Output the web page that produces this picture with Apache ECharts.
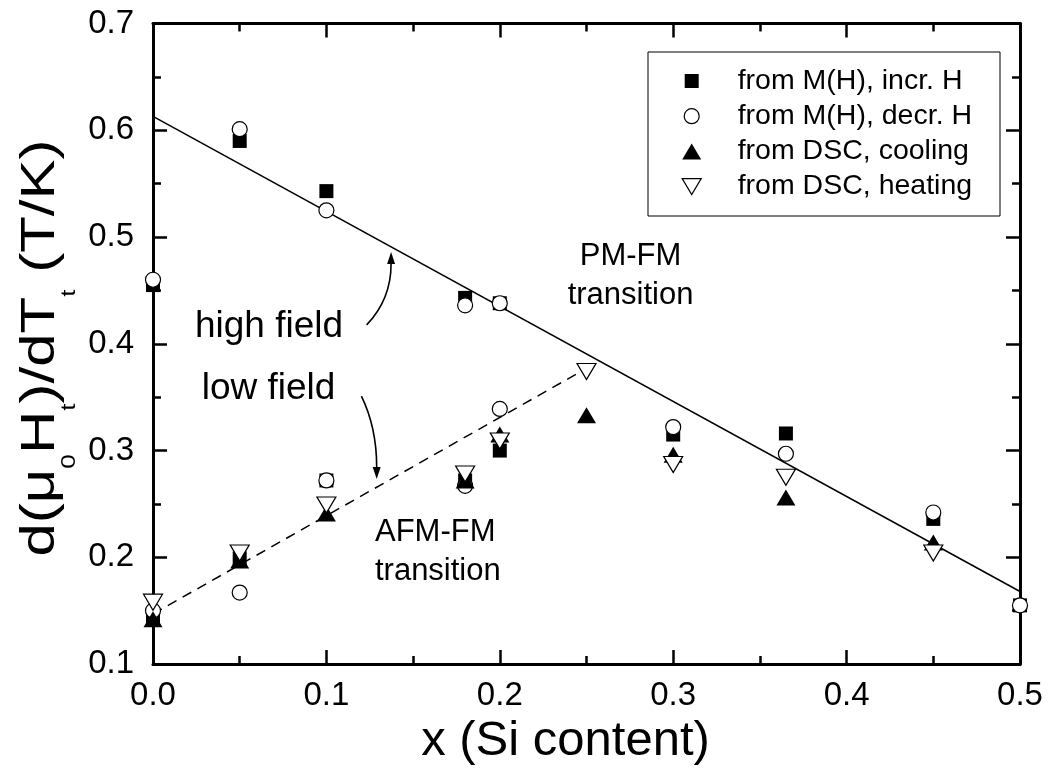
<!DOCTYPE html>
<html><head><meta charset="utf-8">
<script src="https://cdn.jsdelivr.net/npm/echarts@6/dist/echarts.min.js"></script>
<style>html,body{margin:0;padding:0;background:#fff}#c{width:1051px;height:771px}</style>
</head><body><div id="c"></div>
<script>
const FONT = 'Liberation Sans, Arial, Helvetica, sans-serif';

// ---- data (x = Si content, y = d(mu0 Ht)/dTt in T/K) ----
const seriesNames = ['from M(H), incr. H', 'from M(H), decr. H', 'from DSC, cooling', 'from DSC, heating'];
const incrH = [[0,0.455],[0.05,0.590],[0.1,0.543],[0.18,0.443],[0.2,0.438],
  [0,0.145],[0.05,0.199],[0.1,0.272],[0.18,0.272],[0.2,0.300],[0.3,0.315],[0.365,0.316],[0.45,0.236],[0.5,0.155]];
const decrH = [[0,0.460],[0.05,0.601],[0.1,0.525],[0.18,0.436],[0.2,0.438],
  [0,0.150],[0.05,0.167],[0.1,0.272],[0.18,0.267],[0.2,0.339],[0.3,0.322],[0.365,0.297],[0.45,0.242],[0.5,0.155]];
const dscCooling = [[0,0.142],[0.05,0.197],[0.1,0.241],[0.18,0.272],[0.2,0.315],[0.25,0.333],[0.3,0.296],[0.365,0.256],[0.45,0.214]];
const dscHeating = [[0,0.158],[0.05,0.204],[0.1,0.249],[0.18,0.278],[0.2,0.309],[0.25,0.374],[0.3,0.287],[0.365,0.275],[0.45,0.204]];
const highFieldFit = [[0,0.613],[0.5,0.168]];
const lowFieldFit = [[0,0.147],[0.25,0.377]];

// annotation anchors in data coordinates
const textNotes = [
  {text:'high field', at:[0.0242,0.4155], align:'left', size:37},
  {text:'low field', at:[0.0281,0.3581], align:'left', size:37},
  {text:'PM-FM\ntransition', at:[0.2754,0.4635], align:'center', size:31},
  {text:'AFM-FM\ntransition', at:[0.128,0.2051], align:'left', size:31}
];
const arrowNotes = [
  {from:[0.1232,0.4177], ctrl:[0.1373,0.4416], to:[0.1373,0.486]},
  {from:[0.1202,0.351], ctrl:[0.129,0.3215], to:[0.129,0.2734]}
];

const chart = echarts.init(document.getElementById('c'), null, {renderer:'canvas'});
const sq = 'path://M0,0 L10,0 L10,10 L0,10 Z';
const tri = 'path://M5,0 L10,10 L0,10 Z';
const triDown = 'path://M0,0 L10,0 L5,10 Z';

const axisCommon = {
  axisLine:{show:true, onZero:false, lineStyle:{color:'#000', width:3}},
  axisTick:{show:true, inside:true, length:14, lineStyle:{color:'#000', width:2.5}},
  minorTick:{show:true, splitNumber:2, length:8, lineStyle:{color:'#000', width:2.5}},
  splitLine:{show:false}
};

const option = {
  backgroundColor:'#fff',
  animation:false,
  grid:{left:153, right:31, top:23.5, bottom:103, containLabel:false},
  xAxis:[
    Object.assign({type:'value', min:0, max:0.5, interval:0.1, position:'bottom',
      axisLabel:{fontSize:33, fontFamily:FONT, color:'#000', margin:15, formatter:v=>v.toFixed(1)},
      name:'x (Si content)', nameLocation:'middle', nameGap:50,
      nameTextStyle:{fontSize:49, fontFamily:FONT, color:'#000', padding:[0,42,0,0]}}, axisCommon),
    Object.assign({type:'value', min:0, max:0.5, interval:0.1, position:'top',
      axisLabel:{show:false}}, axisCommon)
  ],
  yAxis:[
    Object.assign({type:'value', min:0.1, max:0.7, interval:0.1, position:'left',
      axisLabel:{fontSize:33, fontFamily:FONT, color:'#000', margin:19, formatter:v=>v.toFixed(1)}}, axisCommon),
    Object.assign({type:'value', min:0.1, max:0.7, interval:0.1, position:'right',
      axisLabel:{show:false}}, axisCommon)
  ],
  legend:{show:false, data:seriesNames},
  series:[
    {type:'line', data:highFieldFit, symbol:'none', lineStyle:{color:'#000', width:1.5}, z:1, silent:true},
    {type:'line', data:lowFieldFit, symbol:'none', lineStyle:{color:'#000', width:1.5, type:[10,7]}, z:1, silent:true},
    {name:seriesNames[0], type:'scatter', data:incrH, symbol:sq, symbolSize:14,
      itemStyle:{color:'#000', opacity:1}, z:2},
    {name:seriesNames[1], type:'scatter', data:decrH, symbol:'circle', symbolSize:15,
      itemStyle:{color:'#fff', borderColor:'#000', borderWidth:1.2, opacity:1}, z:3},
    {name:seriesNames[2], type:'scatter', data:dscCooling, symbol:tri, symbolSize:[19,16], symbolKeepAspect:false,
      itemStyle:{color:'#000', opacity:1}, z:4},
    {name:seriesNames[3], type:'scatter', data:dscHeating, symbol:triDown, symbolSize:[19,16], symbolKeepAspect:false,
      itemStyle:{color:'#fff', borderColor:'#000', borderWidth:1.2, opacity:1}, z:5}
  ]
};
chart.setOption(option);

function px(p){ return chart.convertToPixel({xAxisIndex:0, yAxisIndex:0}, p); }
const graphics = [];

// legend box (drawn as graphic for exact placement)
const LG = {left:648, top:52, width:352, height:164, symX:43.7, textX:89.7, row0:29, rowGap:35.2};
const legendChildren = [{type:'rect', shape:{x:0, y:0, width:LG.width, height:LG.height},
  style:{fill:'#fff', stroke:'#000', lineWidth:1}}];
seriesNames.forEach((nm, i)=>{
  const cy = LG.row0 + i*LG.rowGap, cx = LG.symX;
  let sym;
  if (i === 0) sym = {type:'rect', shape:{x:cx-7, y:cy-7, width:14, height:14}, style:{fill:'#000'}};
  else if (i === 1) sym = {type:'circle', shape:{cx:cx, cy:cy, r:7.5}, style:{fill:'#fff', stroke:'#000', lineWidth:1.2}};
  else if (i === 2) sym = {type:'polygon', shape:{points:[[cx,cy-8],[cx+9.5,cy+8],[cx-9.5,cy+8]]}, style:{fill:'#000'}};
  else sym = {type:'polygon', shape:{points:[[cx-9.5,cy-8],[cx+9.5,cy-8],[cx,cy+8]]}, style:{fill:'#fff', stroke:'#000', lineWidth:1.2}};
  legendChildren.push(sym);
  legendChildren.push({type:'text', x:LG.textX, y:cy,
    style:{text:nm, fontSize:28.5, fontFamily:FONT, fill:'#000', align:'left', verticalAlign:'middle'}});
});
graphics.push({type:'group', x:LG.left, y:LG.top, z:20, children:legendChildren});

// y-axis title (rotated, slightly stretched along its length like the original)
const yMid = px([0, 0.396])[1];
graphics.push({type:'text', x:41, y:yMid, rotation:Math.PI/2, scaleX:1.25, scaleY:1, z:10,
  style:{text:'{m|d(μ}{s|0}{m|H}{s|t}{m|)/dT}{s|t}{m| (T/K)}', align:'center', verticalAlign:'middle',
    rich:{
      m:{fontSize:48, fontFamily:FONT, fill:'#000', lineHeight:48, verticalAlign:'top'},
      s:{fontSize:21, fontFamily:FONT, fill:'#000', lineHeight:21, verticalAlign:'top', padding:[42,0,0,0]}
    }}});
textNotes.forEach(n=>{
  const p = px(n.at);
  graphics.push({type:'text', x:p[0], y:p[1], z:10,
    style:{text:n.text, fontSize:n.size, fontFamily:FONT, fill:'#000', align:n.align, verticalAlign:'middle', lineHeight:n.size*1.27}});
});
arrowNotes.forEach(a=>{
  const p0 = px(a.from), c = px(a.ctrl), p1 = px(a.to);
  let dx = p1[0]-c[0], dy = p1[1]-c[1]; const L = Math.hypot(dx,dy); dx/=L; dy/=L;
  const len = 12, w = 4;
  const b = [p1[0]-dx*len, p1[1]-dy*len];
  graphics.push({type:'bezierCurve', z:10, shape:{x1:p0[0], y1:p0[1], cpx1:c[0], cpy1:c[1], x2:b[0], y2:b[1]},
    style:{stroke:'#000', lineWidth:1.6, fill:null}});
  graphics.push({type:'polygon', z:10, shape:{points:[p1, [b[0]-dy*w, b[1]+dx*w], [b[0]+dy*w, b[1]-dx*w]]},
    style:{fill:'#000'}});
});
chart.setOption({graphic:graphics});
</script></body></html>
